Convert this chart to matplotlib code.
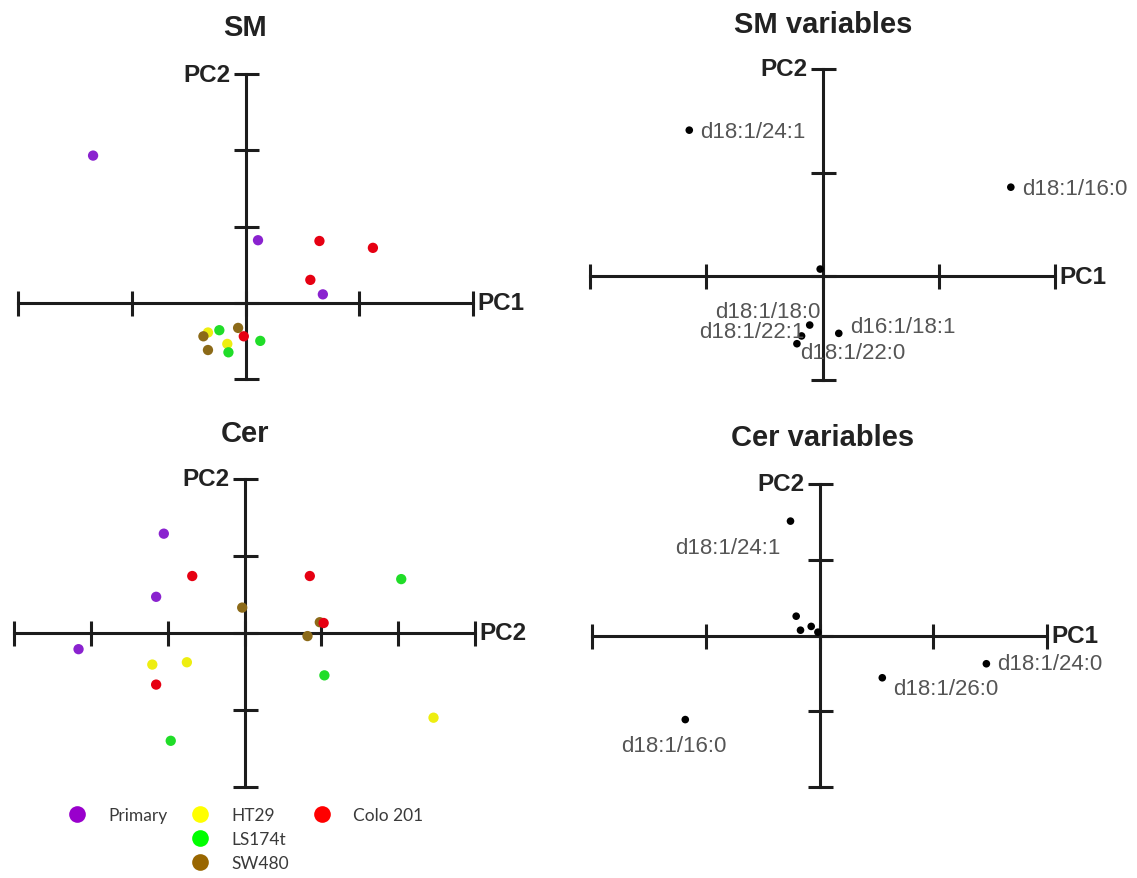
import matplotlib
matplotlib.use("Agg")
import matplotlib.pyplot as plt
from matplotlib.lines import Line2D

plt.rcParams["font.family"] = ["Liberation Sans", "DejaVu Sans"]

# ---------------------------------------------------------------- data
groups = ["Primary", "HT29", "LS174t", "SW480", "Colo 201"]

# SM score plot (sample scores)
sm_group = ["Primary", "Primary", "Primary",
            "HT29", "HT29",
            "LS174t", "LS174t", "LS174t",
            "SW480", "SW480", "SW480",
            "Colo 201", "Colo 201", "Colo 201", "Colo 201"]
sm_pc1 = [-1.34, 0.11, 0.68,
          -0.33, -0.16,
          -0.23, 0.13, -0.15,
          -0.37, -0.065, -0.33,
          0.65, 1.12, 0.57, -0.015]
sm_pc2 = [1.93, 0.82, 0.11,
          -0.39, -0.54,
          -0.36, -0.50, -0.65,
          -0.44, -0.33, -0.62,
          0.81, 0.72, 0.30, -0.44]

# Cer score plot (sample scores)
cer_group = ["Primary", "Primary", "Primary",
             "HT29", "HT29", "HT29",
             "LS174t", "LS174t", "LS174t",
             "SW480", "SW480", "SW480",
             "Colo 201", "Colo 201", "Colo 201", "Colo 201"]
cer_pc1 = [-1.05, -1.15, -2.16,
           -1.20, -0.75, 2.46,
           2.04, 1.04, -0.96,
           -0.03, 0.82, 0.98,
           -0.68, 0.85, -1.15, 1.03]
cer_pc2 = [1.29, 0.47, -0.21,
           -0.41, -0.38, -1.10,
           0.70, -0.55, -1.40,
           0.33, -0.04, 0.14,
           0.74, 0.74, -0.67, 0.13]

# SM loadings
smv_names = ["d18:1/24:1", "d18:1/16:0", "", "d18:1/18:0",
             "d18:1/22:1", "d18:1/22:0", "d16:1/18:1"]
smv_pc1 = [-1.146, 1.62, -0.02, -0.11, -0.18, -0.22, 0.14]
smv_pc2 = [1.41, 0.86, 0.07, -0.47, -0.575, -0.65, -0.55]

# Cer loadings
cerv_names = ["d18:1/24:1", "d18:1/16:0", "d18:1/24:0", "d18:1/26:0",
              "", "", "", ""]
cerv_pc1 = [-0.255, -1.18, 1.467, 0.552, -0.205, -0.167, -0.073, -0.014]
cerv_pc2 = [1.51, -1.11, -0.373, -0.558, 0.255, 0.07, 0.12, 0.044]

sm_xticks = [-2, -1, 0, 1, 2]
sm_yticks = [-1, 0, 1, 2, 3]
smv_xticks = [-2, -1, 0, 1, 2]
smv_yticks = [-1, 0, 1, 2]
cer_xticks = [-3, -2, -1, 0, 1, 2, 3]
cer_yticks = [-2, -1, 0, 1, 2]
cerv_xticks = [-2, -1, 0, 1, 2]
cerv_yticks = [-2, -1, 0, 1, 2]

# ---------------------------------------------------------------- style
W, H, DPI = 1137, 879, 100
LW = 2.2
AXIS_COLOR = "#1c1c1c"
TEXT_COLOR = "#222222"
LABEL_COLOR = "#555555"
point_colors = {"Primary": "#8A22CF", "HT29": "#EEEE10", "LS174t": "#20DD28",
                "SW480": "#8C6A18", "Colo 201": "#E60012"}
legend_colors = {"Primary": "#9900CC", "HT29": "#FFFF00", "LS174t": "#00FF00",
                 "SW480": "#996600", "Colo 201": "#FF0000"}

fig = plt.figure(figsize=(W / DPI, H / DPI), dpi=DPI)
fig.patch.set_facecolor("white")


def place_axes(left, right, top, bottom):
    """Axes whose data limits span exactly the given pixel box."""
    return fig.add_axes([left / W, 1 - bottom / H,
                         (right - left) / W, (bottom - top) / H])


def cross_axes(ax, xticks, yticks, xlabel, ylabel):
    ax.set_xlim(xticks[0], xticks[-1])
    ax.set_ylim(yticks[0], yticks[-1])
    ax.patch.set_visible(False)
    for side in ("top", "right"):
        ax.spines[side].set_visible(False)
    for side in ("left", "bottom"):
        ax.spines[side].set_position(("data", 0))
        ax.spines[side].set_linewidth(LW)
        ax.spines[side].set_color(AXIS_COLOR)
    ax.set_xticks(xticks)
    ax.set_yticks(yticks)
    ax.tick_params(direction="inout", length=18, width=LW, color=AXIS_COLOR,
                   labelbottom=False, labelleft=False)
    ax.annotate(xlabel, xy=(xticks[-1], 0), xytext=(3, 0),
                textcoords="offset points", ha="left", va="center",
                fontsize=17.5, fontweight="bold", color=TEXT_COLOR)
    ax.annotate(ylabel, xy=(0, yticks[-1]), xytext=(-11, 0),
                textcoords="offset points", ha="right", va="center",
                fontsize=17.5, fontweight="bold", color=TEXT_COLOR)


def score_points(ax, grp, xs, ys):
    for g in groups:
        px = [x for x, gg in zip(xs, grp) if gg == g]
        py = [y for y, gg in zip(ys, grp) if gg == g]
        ax.scatter(px, py, s=55, color=point_colors[g], edgecolors="none",
                   zorder=3, clip_on=False)


def loading_points(ax, names, xs, ys, offsets):
    ax.scatter(xs, ys, s=30, color="black", edgecolors="none",
               zorder=3, clip_on=False)
    for name, x, y, (dx, dy, ha) in zip(names, xs, ys, offsets):
        if name:
            ax.annotate(name, xy=(x, y), xytext=(dx, dy),
                        textcoords="offset points", ha=ha, va="center",
                        fontsize=16, color=LABEL_COLOR)


# SM scores
ax1 = place_axes(18, 473, 75, 380)
cross_axes(ax1, sm_xticks, sm_yticks, "PC1", "PC2")
score_points(ax1, sm_group, sm_pc1, sm_pc2)

# SM loadings
ax2 = place_axes(590, 1055, 70, 381)
cross_axes(ax2, smv_xticks, smv_yticks, "PC1", "PC2")
loading_points(ax2, smv_names, smv_pc1, smv_pc2,
               [(8, -1, "left"), (8, -1, "left"), (0, 0, "left"),
                (8, 10, "right"), (2, 3, "right"), (2, -6, "left"),
                (8, 5, "left")])

# Cer scores
ax3 = place_axes(14, 475, 480, 788)
cross_axes(ax3, cer_xticks, cer_yticks, "PC2", "PC2")
score_points(ax3, cer_group, cer_pc1, cer_pc2)

# Cer loadings
ax4 = place_axes(592, 1047, 485, 788)
cross_axes(ax4, cerv_xticks, cerv_yticks, "PC1", "PC2")
loading_points(ax4, cerv_names, cerv_pc1, cerv_pc2,
               [(-7, -19, "right"), (-8, -19, "center"), (8, 0, "left"),
                (8, -8, "left"), (0, 0, "left"), (0, 0, "left"),
                (0, 0, "left"), (0, 0, "left")])

# panel titles
for text, x, y in [("SM", 245, 28), ("SM variables", 823, 25),
                   ("Cer", 245, 434), ("Cer variables", 823, 438)]:
    fig.text(x / W, 1 - y / H, text, ha="center", va="center",
             fontsize=21, fontweight="bold", color=TEXT_COLOR)

# legend: Primary | HT29, LS174t, SW480 | Colo 201
def dot(g):
    return Line2D([], [], ls="", marker="o", markersize=12,
                  markerfacecolor=legend_colors[g], markeredgecolor="none")


blank = Line2D([], [], ls="", marker=None)
handles = [dot("Primary"), blank, blank,
           dot("HT29"), dot("LS174t"), dot("SW480"),
           dot("Colo 201"), blank, blank]
labels = ["Primary", "", "", "HT29", "LS174t", "SW480", "Colo 201", "", ""]
fig.legend(handles, labels, ncol=3, loc="upper left",
           bbox_to_anchor=(68 / W, 1 - 808 / H), frameon=False,
           borderpad=0, borderaxespad=0, handlelength=1.0,
           handletextpad=1.3, columnspacing=1.4, labelspacing=0.45,
           prop={"family": ["Lato", "DejaVu Sans"], "size": 12.5},
           labelcolor="#3a3a3a")

fig.savefig("out.png", dpi=DPI, facecolor="white")
